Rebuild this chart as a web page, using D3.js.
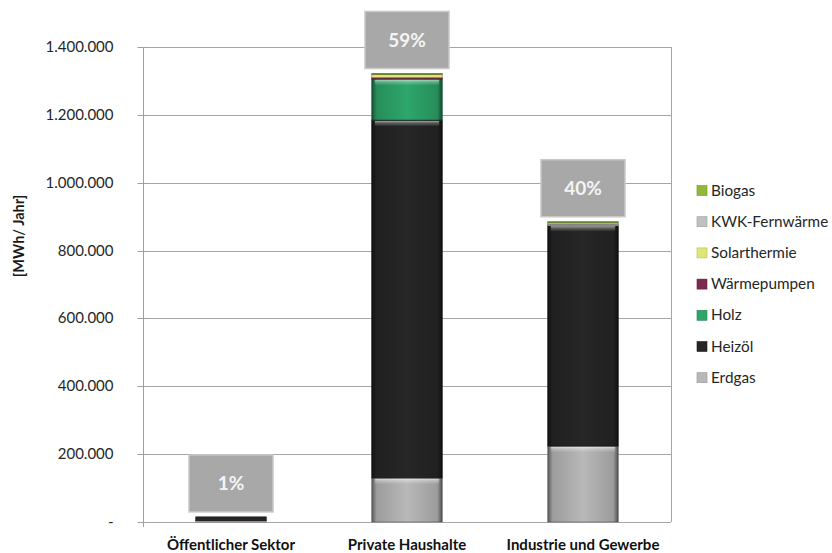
<!DOCTYPE html>
<html><head><meta charset="utf-8">
<script src="https://cdn.jsdelivr.net/npm/d3@7"></script>
<style>body{margin:0;background:#fff;} svg{display:block;font-family:Lato,"Open Sans",sans-serif;}</style>
</head><body>
<svg id="c" width="832" height="553"></svg>
<script>
const categories = ["Öffentlicher Sektor", "Private Haushalte", "Industrie und Gewerbe"];
const seriesNames = ["Erdgas", "Heizöl", "Holz", "Wärmepumpen", "Solarthermie", "KWK-Fernwärme", "Biogas"];
const erdgas       = [4000, 130000, 224000];
const heizoel      = [11000, 1055000, 651000];
const holz         = [0, 121000, 0];
const waermepumpen = [0, 4000, 0];
const solarthermie = [0, 9000, 2000];
const kwk          = [0, 0, 5000];
const biogas       = [0, 3000, 3000];
const shareLabels  = ["1%", "59%", "40%"];
const yTicks = [0, 200000, 400000, 600000, 800000, 1000000, 1200000, 1400000];
const colors = ["#b8b8b8", "#262626", "#2ea66a", "#7a2a4c", "#dfe675", "#c0c0c0", "#92b83a"];

const seriesValues = [erdgas, heizoel, holz, waermepumpen, solarthermie, kwk, biogas];
const rows = categories.map((c, i) => {
  const r = {cat: c};
  seriesNames.forEach((s, j) => r[s] = seriesValues[j][i]);
  return r;
});
const stack = d3.stack().keys(seriesNames)(rows);

const svg = d3.select("#c");
const L = 143, R = 671, T = 47, B = 522;
const x = d3.scaleBand().domain(categories).range([L, R]).paddingInner(0.6).paddingOuter(0.3);
const y = d3.scaleLinear().domain([0, 1400000]).range([B, T]);
const color = d3.scaleOrdinal().domain(seriesNames).range(colors);

const defs = svg.append("defs");
const hg = defs.append("linearGradient").attr("id", "hshade").attr("x1", 0).attr("x2", 1).attr("y1", 0).attr("y2", 0);
[[0, 0.5], [0.07, 0.15], [0.5, 0], [0.93, 0.15], [1, 0.55]].forEach(([o, a]) =>
  hg.append("stop").attr("offset", o).attr("stop-color", "#000").attr("stop-opacity", a));
const vg = defs.append("linearGradient").attr("id", "vshade").attr("x1", 0).attr("x2", 0).attr("y1", 0).attr("y2", 1);
[[0, 0.6], [0.08, 0.3], [0.25, 0], [1, 0]].forEach(([o, a]) =>
  vg.append("stop").attr("offset", o).attr("stop-color", "#fff").attr("stop-opacity", a));

// gridlines
svg.append("g").selectAll("line").data(yTicks.filter(d => d > 0)).join("line")
  .attr("x1", L).attr("x2", R).attr("y1", d => Math.round(y(d)) + 0.5).attr("y2", d => Math.round(y(d)) + 0.5)
  .attr("stroke", "#a6a6a6").attr("stroke-width", 1);
svg.append("line").attr("x1", R + 0.5).attr("x2", R + 0.5).attr("y1", T).attr("y2", B).attr("stroke", "#a6a6a6");
svg.append("line").attr("x1", L).attr("x2", R).attr("y1", B + 0.5).attr("y2", B + 0.5).attr("stroke", "#a6a6a6");

// y axis
const yAxis = d3.axisLeft(y).tickValues(yTicks).tickSize(6).tickPadding(24)
  .tickFormat(d => d === 0 ? "-" : d3.format(",")(d).replace(/,/g, "."));
const ga = svg.append("g").attr("transform", `translate(${L + 0.5},0)`).call(yAxis);
ga.select(".domain").attr("stroke", "#a0a0a0").attr("d", `M0,${T}V${B + 5}`);
ga.selectAll(".tick line").attr("stroke", "#a0a0a0").attr("x2", -6).attr("x1", 5);
ga.selectAll(".tick").attr("transform", d => `translate(0,${Math.round(y(d)) + 0.5})`);
ga.selectAll(".tick text").attr("font-size", 15).attr("fill", "#262626").attr("font-family", "Lato, sans-serif");

svg.append("text").attr("transform", "translate(24,236) rotate(-90)")
  .attr("text-anchor", "middle").attr("font-weight", "bold").attr("font-size", 14.5).attr("fill", "#1a1a1a")
  .text("[MWh/ Jahr]");

// bars
const layers = svg.append("g").selectAll("g").data(stack).join("g");
layers.each(function(layer) {
  const g = d3.select(this);
  const segs = layer.filter(d => d[1] - d[0] > 0);
  const col = color(layer.key);
  const big = segs.filter(d => y(d[0]) - y(d[1]) > 6);
  g.selectAll("rect.base").data(segs).join("rect").attr("class", "base")
    .attr("x", d => x(d.data.cat)).attr("width", x.bandwidth())
    .attr("y", d => y(d[1])).attr("height", d => Math.max(1, y(d[0]) - y(d[1])))
    .attr("fill", col).attr("stroke", d3.color(col).darker(1.2)).attr("stroke-width", 0.8);
  g.selectAll("rect.h").data(big).join("rect").attr("class", "h")
    .attr("x", d => x(d.data.cat)).attr("width", x.bandwidth())
    .attr("y", d => y(d[1])).attr("height", d => y(d[0]) - y(d[1]))
    .attr("fill", "url(#hshade)");
  g.selectAll("rect.v").data(big).join("rect").attr("class", "v")
    .attr("x", d => x(d.data.cat) + 3).attr("width", x.bandwidth() - 6)
    .attr("y", d => y(d[1]) + 1).attr("height", d => Math.min(22, y(d[0]) - y(d[1]) - 2))
    .attr("fill", "url(#vshade)");
});

// share boxes
const totals = rows.map(r => d3.sum(seriesNames, s => r[s]));
const bw = 84, bh = 57;
const boxes = svg.append("g").selectAll("g").data(categories).join("g")
  .attr("transform", (c, i) => `translate(${x(c) + x.bandwidth() / 2 - bw / 2},${y(totals[i]) - 5 - bh})`);
boxes.append("rect").attr("width", bw).attr("height", bh).attr("fill", "#a8a8a8")
  .attr("stroke", "#c8c8c8").attr("stroke-width", 1.5);
boxes.append("text").attr("x", bw / 2).attr("y", bh / 2 + 7).attr("text-anchor", "middle")
  .attr("font-size", 19).attr("font-weight", "bold").attr("fill", "#f4f4f4")
  .text((c, i) => shareLabels[i]);

// x labels
svg.append("g").selectAll("text").data(categories).join("text")
  .attr("x", c => x(c) + x.bandwidth() / 2).attr("y", 550).attr("text-anchor", "middle")
  .attr("font-size", 15).attr("font-weight", "bold").attr("fill", "#111").text(c => c);

// legend
const legendOrder = seriesNames.slice().reverse();
const lg = svg.append("g").selectAll("g").data(legendOrder).join("g")
  .attr("transform", (d, i) => `translate(697,${190.5 + i * 31.2})`);
lg.append("rect").attr("x", 0).attr("y", -5).attr("width", 10).attr("height", 10)
  .attr("fill", d => color(d)).attr("stroke", d => d3.color(color(d)).darker(0.6)).attr("stroke-width", 0.6);
lg.append("text").attr("x", 14).attr("y", 5).attr("font-size", 15.3).attr("fill", "#262626").text(d => d);
</script>
</body></html>
